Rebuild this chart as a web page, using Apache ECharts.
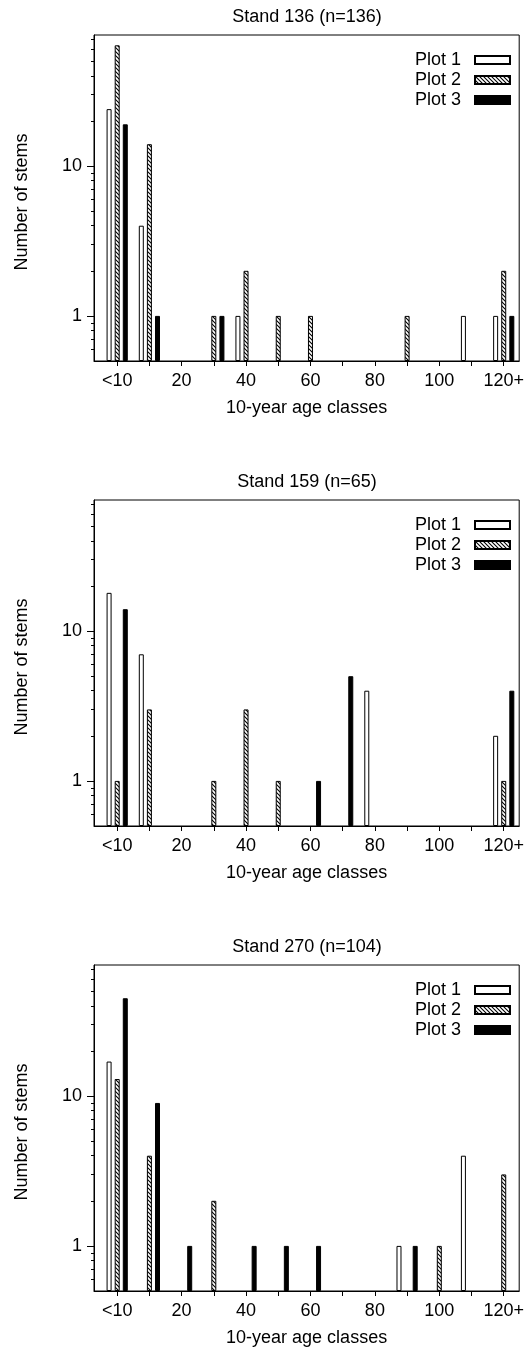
<!DOCTYPE html>
<html><head><meta charset="utf-8">
<script src="https://cdn.jsdelivr.net/npm/echarts@6/dist/echarts.min.js"></script>
<style>html,body{margin:0;padding:0;background:#fff}#c{width:527px;height:1362px}</style>
</head><body><div id="c"></div>
<script>
// ---- data ----
const categories = ['<10','10','20','30','40','50','60','70','80','90','100','110','120+'];
const xLabelIndex = [0,2,4,6,8,10,12];
const yMajorTicks = [1,10];
const yMinorTicks = [0.6,0.7,0.8,0.9,2,3,4,5,6,7,8,9,20,30,40,50,60,70];
const seriesNames = ['Plot 1','Plot 2','Plot 3'];
const panelTitles = ['Stand 136 (n=136)','Stand 159 (n=65)','Stand 270 (n=104)'];
const xAxisTitle = '10-year age classes';
const yAxisTitle = 'Number of stems';
// values per age class (0 = no stems)
const stand136Plot1 = [24,4,0,0,1,0,0,0,0,0,0,1,1];
const stand136Plot2 = [64,14,0,1,2,1,1,0,0,1,0,0,2];
const stand136Plot3 = [19,1,0,1,0,0,0,0,0,0,0,0,1];
const stand159Plot1 = [18,7,0,0,0,0,0,0,4,0,0,0,2];
const stand159Plot2 = [1,3,0,1,3,1,0,0,0,0,0,0,1];
const stand159Plot3 = [14,0,0,0,0,0,1,5,0,0,0,0,4];
const stand270Plot1 = [17,0,0,0,0,0,0,0,0,1,0,4,0];
const stand270Plot2 = [13,4,0,2,0,0,0,0,0,0,1,0,3];
const stand270Plot3 = [45,9,1,0,1,1,1,0,0,1,0,0,0];

const panels = [
  [stand136Plot1, stand136Plot2, stand136Plot3],
  [stand159Plot1, stand159Plot2, stand159Plot3],
  [stand270Plot1, stand270Plot2, stand270Plot3]
];

// ---- styling ----
const FONT = 'Liberation Sans, Arial, sans-serif';
const FS = 18;
const gridTops = [35, 500, 965];
const gridH = 326;

function makeHatch() {
  const c = document.createElement('canvas');
  c.width = 4; c.height = 4;
  const g = c.getContext('2d');
  g.fillStyle = '#fff'; g.fillRect(0, 0, 4, 4);
  g.strokeStyle = '#000'; g.lineWidth = 1.1;
  g.beginPath();
  g.moveTo(-1, -1); g.lineTo(5, 5);
  g.moveTo(-1, 3); g.lineTo(1, 5);
  g.moveTo(3, -1); g.lineTo(5, 1);
  g.stroke();
  return c;
}
const hatch = makeHatch();
const fills = ['#ffffff', {image: hatch, repeat: 'repeat'}, '#000000'];

const grid = [], xAxis = [], yAxis = [], series = [], legend = [], title = [];
panels.forEach((vals, p) => {
  grid.push({left: 94, right: 7, top: gridTops[p], height: gridH, show: true,
    borderColor: '#000', borderWidth: 1, backgroundColor: 'transparent'});
  title.push({text: panelTitles[p], left: 307, top: gridTops[p] - 27, textAlign: 'center', padding: 0,
    textStyle: {fontFamily: FONT, fontSize: FS, fontWeight: 'normal', color: '#000'}});
  xAxis.push({type: 'value', gridIndex: p, min: -0.72, max: 12.48,
    axisLine: {show: true, onZero: false, lineStyle: {color: '#000', width: 1}},
    axisTick: {show: true, customValues: categories.map((_, k) => k), length: 5, lineStyle: {color: '#000'}},
    axisLabel: {customValues: xLabelIndex, formatter: v => categories[Math.round(v)],
      fontFamily: FONT, fontSize: FS, color: '#000', margin: 11},
    splitLine: {show: false},
    name: xAxisTitle, nameLocation: 'middle', nameGap: 38,
    nameTextStyle: {fontFamily: FONT, fontSize: FS, color: '#000'}});
  yAxis.push({type: 'log', gridIndex: p, position: 'left', min: 0.5, max: 75, startValue: 0.5,
    axisLine: {show: true, onZero: false, lineStyle: {color: '#000', width: 1}},
    axisTick: {show: true, customValues: yMajorTicks, length: 7, lineStyle: {color: '#000'}},
    axisLabel: {customValues: yMajorTicks, formatter: v => String(v),
      fontFamily: FONT, fontSize: FS, color: '#000', margin: 12},
    splitLine: {show: false},
    name: yAxisTitle, nameLocation: 'middle', nameGap: 63,
    nameTextStyle: {fontFamily: FONT, fontSize: FS, color: '#000', padding: [0, 8, 0, 0]}});
  yAxis.push({type: 'log', gridIndex: p, position: 'left', min: 0.5, max: 75,
    axisLine: {show: false, onZero: false},
    axisTick: {show: true, customValues: yMinorTicks, length: 3, lineStyle: {color: '#000'}},
    axisLabel: {show: false}, splitLine: {show: false}});
  vals.forEach((arr, s) => {
    series.push({type: 'bar', name: seriesNames[s], xAxisIndex: p, yAxisIndex: 2 * p,
      barWidth: 5, barGap: '62%', silent: true,
      itemStyle: {color: fills[s], borderColor: '#000', borderWidth: 1},
      data: arr.map((v, k) => v > 0 ? [k, v] : null).filter(d => d)});
  });
  legend.push({orient: 'vertical', right: 16, top: gridTops[p] + 15, align: 'right', icon: 'rect',
    padding: 0, itemWidth: 35, itemHeight: 8, itemGap: 0, selectedMode: false, data: seriesNames,
    textStyle: {fontFamily: FONT, fontSize: FS, color: '#000', lineHeight: 20, padding: [0, 9, 0, 0]}});
});

const chart = echarts.init(document.getElementById('c'), null, {renderer: 'canvas'});
chart.setOption({animation: false, backgroundColor: '#fff', title, legend, grid, xAxis, yAxis, series});
</script></body></html>
